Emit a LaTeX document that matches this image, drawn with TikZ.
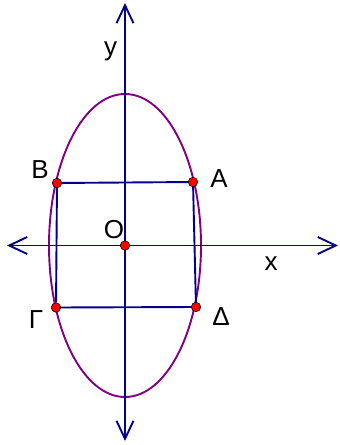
\documentclass[tikz,border=0pt]{standalone}
\usepackage{fontspec}
\setmainfont{Liberation Sans}
\usetikzlibrary{arrows.meta}
\definecolor{axisblue}{RGB}{0,0,139}
\definecolor{curvepurple}{RGB}{128,0,128}
\begin{document}
\begin{tikzpicture}[x=1pt, y=-1pt,
  axis/.style={draw=axisblue, line width=1.9pt, {Straight Barb[length=18pt,width=17pt]}-{Straight Barb[length=18pt,width=17pt]}},
  side/.style={draw=axisblue, line width=1.9pt},
  dot/.style={circle, fill=red, draw=black, line width=0.6pt, inner sep=0pt, minimum size=9.5pt},
  lbl/.style={anchor=base, inner sep=0pt, font=\fontsize{26}{30}\selectfont}]
\useasboundingbox (0,0) rectangle (340,445);
\draw[curvepurple, line width=1.9pt] (125,245.5) ellipse [x radius=76, y radius=151.5];
\coordinate (xl) at (7,245.5);
\coordinate (xr) at (338,245.5);
\coordinate (yb) at (125,441);
\coordinate (yt) at (125,3);
\draw[axis] (xl) -- (xr);
\draw[axis] (yb) -- (yt);
\node[dot] (A) at (193,182) {};
\node[dot] (B) at (57,183) {};
\node[dot] (G) at (56,307.5) {};
\node[dot] (D) at (196,307) {};
\node[dot] (O) at (125,245.5) {};
\draw[side] (B) -- (A);
\draw[side] (A) -- (D);
\draw[side] (D) -- (G);
\draw[side] (G) -- (B);
\node[lbl] (labA) at (219,187) {A};
\node[lbl] (labB) at (40,178) {B};
\node[lbl] (labG) at (36,328) {Γ};
\node[lbl] (labD) at (221,325) {Δ};
\node[lbl] (labO) at (114,238) {O};
\node[lbl] (labx) at (271,270) {x};
\node[lbl] (laby) at (110.5,55) {y};
\end{tikzpicture}
\end{document}
